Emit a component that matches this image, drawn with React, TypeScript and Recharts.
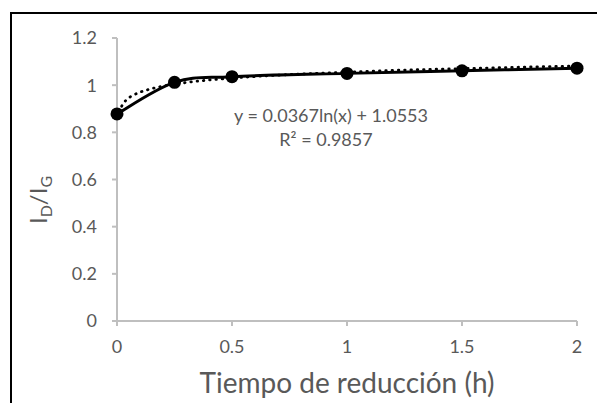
import { CartesianGrid, Customized, Line, LineChart, XAxis, YAxis } from "recharts";

// measured points (tiempo de reducción, I_D/I_G)
const tiempos = [0, 0.25, 0.5, 1, 1.5, 2];
const ratios = [0.878, 1.012, 1.036, 1.05, 1.061, 1.072];

// dotted log trendline
const trendX = [0.01, 0.02, 0.04, 0.07, 0.1, 0.15, 0.2, 0.3, 0.4, 0.5, 0.75, 1, 1.25, 1.5, 1.75, 2];
const trendY = [0.886, 0.91, 0.937, 0.957, 0.97, 0.985, 0.996, 1.011, 1.022, 1.03, 1.045, 1.055, 1.064, 1.07, 1.076, 1.081];

const xTicks = [0, 0.5, 1, 1.5, 2];
const yTicks = [0, 0.2, 0.4, 0.6, 0.8, 1, 1.2];

const EQUATION = "y = 0.0367ln(x) + 1.0553";
const R2 = "R² = 0.9857";

const FONT = "Lato, 'Open Sans', sans-serif";
const TEXT = "#595959";
const AXIS = "#BFBFBF";

const measured = tiempos.map((x, i) => ({ x, y: ratios[i] }));
const trend = trendX.map((x, i) => ({ x, y: trendY[i] }));

const fmt = (v: number) => String(v);

// Excel-style smoothed line (Catmull-Rom as cubic beziers, 1/6 tangents)
class ExcelSmooth {
  ctx: any;
  pts: number[][] = [];
  constructor(ctx: any) {
    this.ctx = ctx;
  }
  areaStart() {}
  areaEnd() {}
  lineStart() {
    this.pts = [];
  }
  point(x: number, y: number) {
    this.pts.push([+x, +y]);
  }
  lineEnd() {
    const p = this.pts;
    if (!p.length) return;
    this.ctx.moveTo(p[0][0], p[0][1]);
    for (let i = 0; i < p.length - 1; i++) {
      const a = p[i - 1] || p[i];
      const b = p[i];
      const c = p[i + 1];
      const d = p[i + 2] || p[i + 1];
      this.ctx.bezierCurveTo(
        b[0] + (c[0] - a[0]) / 6,
        b[1] + (c[1] - a[1]) / 6,
        c[0] - (d[0] - b[0]) / 6,
        c[1] - (d[1] - b[1]) / 6,
        c[0],
        c[1]
      );
    }
  }
}
const excelSmooth: any = (ctx: any) => new ExcelSmooth(ctx);

function YTitle() {
  return (
    <text
      x={47}
      y={200}
      transform="rotate(-90, 47, 200)"
      textAnchor="middle"
      fill={TEXT}
      fontFamily={FONT}
      fontSize={24}
    >
      <tspan>I</tspan>
      <tspan fontSize={16} dy={5}>D</tspan>
      <tspan dy={-5}>/I</tspan>
      <tspan fontSize={16} dy={5}>G</tspan>
    </text>
  );
}

function Equation() {
  return (
    <g fontFamily={FONT} fill={TEXT} fontSize={18}>
      <text x={331} y={122} textAnchor="middle">{EQUATION}</text>
      <text x={326} y={146} textAnchor="middle">{R2}</text>
    </g>
  );
}

export default function App() {
  return (
    <div
      style={{
        position: "absolute",
        left: 0,
        top: 0,
        width: 597,
        height: 403,
        overflow: "hidden",
        background: "#fff",
        fontFamily: FONT,
      }}
    >
      <div
        style={{
          position: "absolute",
          left: 10,
          top: 12,
          width: 700,
          height: 500,
          border: "2px solid #000",
          boxSizing: "border-box",
        }}
      />
      <div style={{ position: "absolute", left: 0, top: 0 }}>
        <LineChart width={597} height={403} margin={{ top: 38, right: 20, left: 0, bottom: 0 }}>
          <CartesianGrid horizontal={false} vertical={false} />
          <XAxis
            dataKey="x"
            type="number"
            domain={[0, 2]}
            ticks={xTicks}
            tickFormatter={fmt}
            height={82}
            tickSize={5}
            tickMargin={14}
            axisLine={{ stroke: AXIS, strokeWidth: 2 }}
            tickLine={{ stroke: AXIS, strokeWidth: 2 }}
            tick={{ fill: TEXT, fontSize: 18, fontFamily: FONT }}
            label={{
              value: "Tiempo de reducción (h)",
              position: "insideBottom",
              offset: 10,
              fill: TEXT,
              fontSize: 28,
              fontFamily: FONT,
            }}
          />
          <YAxis
            type="number"
            domain={[0, 1.2]}
            ticks={yTicks}
            tickFormatter={fmt}
            width={117}
            tickSize={5}
            tickMargin={15}
            axisLine={{ stroke: AXIS, strokeWidth: 2 }}
            tickLine={{ stroke: AXIS, strokeWidth: 2 }}
            tick={{ fill: TEXT, fontSize: 18, fontFamily: FONT }}
          />
          <Line
            data={measured}
            dataKey="y"
            type={excelSmooth}
            stroke="#000"
            strokeWidth={3}
            dot={{ r: 6.5, fill: "#000", stroke: "#000", strokeWidth: 0 }}
            activeDot={false}
            isAnimationActive={false}
          />
          <Line
            data={trend}
            dataKey="y"
            type="monotone"
            stroke="#000"
            strokeWidth={2.8}
            strokeDasharray="0.5 5.8"
            strokeLinecap="round"
            dot={false}
            activeDot={false}
            isAnimationActive={false}
          />
          <Customized component={Equation} />
          <Customized component={YTitle} />
        </LineChart>
      </div>
    </div>
  );
}
